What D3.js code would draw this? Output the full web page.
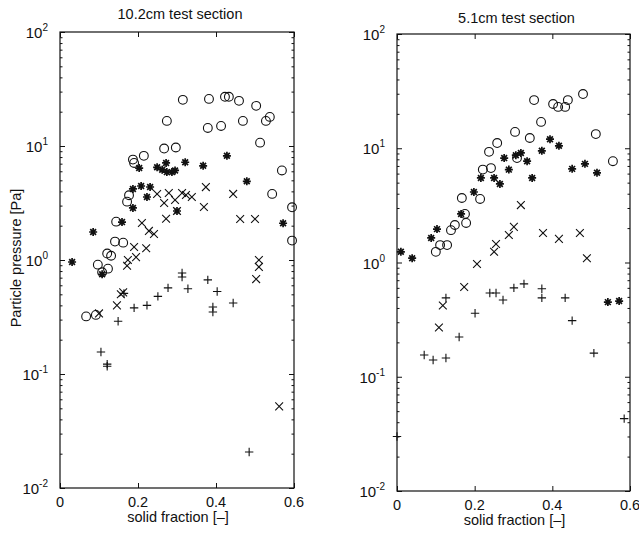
<!DOCTYPE html>
<meta charset="utf-8">
<style>
body { margin: 0; background: #fff; }
svg { display: block; }
text { font-family: "Liberation Sans", Arial, sans-serif; fill: #111; }
.mark { fill: none; stroke: #111; stroke-width: 1.1; }
.star { fill: none; stroke: #111; stroke-width: 1.7; }
</style>
<body>
<svg width="639" height="537"></svg>
<script src="https://cdn.jsdelivr.net/npm/d3@7"></script>
<script>
// ---- data: [solid fraction, particle pressure Pa]
var titles = ["10.2cm test section", "5.1cm test section"];
var xTicks = [0, 0.2, 0.4, 0.6];
var xTickLabels = ["0", "0.2", "0.4", "0.6"];
var yTicks = [0.01, 0.1, 1, 10, 100];
var yTickExp = ["-2", "-1", "0", "1", "2"];

var wideCircles = [[0.315,25.4],[0.382,25.9],[0.423,27],[0.433,27],[0.459,24.9],[0.503,22.5],[0.538,18],
  [0.528,16.6],[0.274,16.6],[0.379,14.4],[0.413,15],[0.469,16.6],[0.513,10.7],[0.267,9.5],[0.297,9.7],
  [0.187,7.6],[0.190,7.1],[0.215,8.2],[0.569,6.1],[0.177,3.7],[0.172,3.25],[0.544,3.8],[0.595,2.9],
  [0.144,2.17],[0.595,1.48],[0.141,1.45],[0.162,1.42],[0.121,1.14],[0.131,1.09],[0.097,0.91],
  [0.123,0.84],[0.108,0.78],[0.067,0.32],[0.092,0.33]];
var wideStars = [[0.031,0.96],[0.085,1.76],[0.159,2.15],[0.187,2.86],[0.187,4.2],[0.208,4.46],[0.231,4.37],
  [0.203,6.4],[0.249,6.5],[0.262,6.2],[0.272,7.1],[0.274,5.9],[0.287,5.9],[0.295,6.1],[0.321,7.2],
  [0.367,6.7],[0.428,8.2],[0.479,4.9],[0.572,2.1],[0.223,3.57],[0.300,2.69],[0.108,0.75]];
var wideCrosses = [[0.249,3.79],[0.267,3.16],[0.279,3.87],[0.295,3.36],[0.313,3.87],[0.323,3.72],[0.338,3.57],
  [0.374,4.36],[0.369,2.92],[0.444,3.8],[0.462,2.29],[0.500,2.29],[0.210,2.11],[0.228,1.8],[0.241,1.69],
  [0.272,2.3],[0.221,1.27],[0.190,1.3],[0.195,1.06],[0.174,1.0],[0.172,0.89],[0.510,1.0],[0.510,0.87],
  [0.503,0.68],[0.162,0.52],[0.156,0.5],[0.146,0.4],[0.100,0.34],[0.562,0.052],[0.300,2.69]];
var widePluses = [[0.313,0.77],[0.313,0.71],[0.277,0.57],[0.328,0.56],[0.379,0.67],[0.403,0.53],[0.444,0.42],
  [0.392,0.387],[0.392,0.35],[0.251,0.48],[0.223,0.4],[0.190,0.38],[0.164,0.51],[0.149,0.29],
  [0.105,0.156],[0.121,0.122],[0.121,0.117],[0.485,0.0207]];

var narrowCircles = [[0.353,26.4],[0.402,24.4],[0.415,23],[0.433,23],[0.440,26.4],[0.479,29.8],[0.371,17],
  [0.304,13.9],[0.342,12.3],[0.258,11.1],[0.237,9.3],[0.512,13.3],[0.556,7.7],[0.309,8.2],[0.221,6.5],
  [0.242,6.7],[0.167,3.67],[0.214,3.6],[0.175,2.66],[0.178,2.22],[0.149,2.13],[0.139,1.92],
  [0.111,1.42],[0.129,1.42],[0.100,1.24]];
var narrowStars = [[0.394,12],[0.417,10.5],[0.373,9.5],[0.335,7.7],[0.276,8.2],[0.306,8.7],[0.319,9.1],
  [0.288,6.5],[0.348,5.5],[0.216,5.5],[0.250,5.5],[0.265,4.87],[0.198,4.14],[0.451,6.6],[0.484,7.3],
  [0.515,6.1],[0.165,2.66],[0.103,1.96],[0.088,1.64],[0.010,1.24],[0.039,1.09],[0.543,0.45],[0.572,0.46]];
var narrowCrosses = [[0.319,3.18],[0.301,2.05],[0.288,1.74],[0.255,1.45],[0.250,1.24],[0.206,0.97],
  [0.376,1.81],[0.417,1.61],[0.471,1.81],[0.489,1.09],[0.173,0.61],[0.118,0.42],[0.108,0.27]];
var narrowPluses = [[0.126,0.49],[0.239,0.54],[0.255,0.54],[0.273,0.47],[0.301,0.6],[0.327,0.65],
  [0.373,0.59],[0.373,0.49],[0.433,0.49],[0.201,0.36],[0.160,0.223],[0.070,0.155],[0.093,0.14],
  [0.126,0.146],[0.451,0.31],[0.507,0.161],[0.585,0.043],[0.0,0.03]];

var svg = d3.select("svg");

// marker paths
function circlePath(r) { return d3.symbol(d3.symbolCircle, Math.PI * r * r)(); }
function plusPath(s) { return "M" + (-s) + ",0H" + s + "M0," + (-s) + "V" + s; }
function crossPath(s) { return "M" + (-s) + "," + (-s) + "L" + s + "," + s + "M" + (-s) + "," + s + "L" + s + "," + (-s); }
function starPath(s) { var d = s * 0.72; return plusPath(s) + crossPath(d); }

function drawPanel(box, title, circles, stars, crosses, pluses) {
  var x = d3.scaleLinear().domain([0, 0.6]).range([box.left, box.right]);
  var y = d3.scaleLog().domain([0.01, 100]).range([box.bottom, box.top]);
  var g = svg.append("g");

  // ticks inside, on all four sides
  var minor = [];
  yTicks.slice(0, -1).forEach(function(t) { for (var k = 2; k < 10; k++) minor.push(t * k); });
  g.append("g").attr("transform", "translate(" + box.left + ",0)")
    .call(d3.axisRight(y).tickValues(yTicks).tickSize(5).tickFormat(""));
  g.append("g").attr("transform", "translate(" + box.right + ",0)")
    .call(d3.axisLeft(y).tickValues(yTicks).tickSize(5).tickFormat(""));
  g.append("g").attr("transform", "translate(" + box.left + ",0)")
    .call(d3.axisRight(y).tickValues(minor).tickSize(2.5).tickFormat(""));
  g.append("g").attr("transform", "translate(" + box.right + ",0)")
    .call(d3.axisLeft(y).tickValues(minor).tickSize(2.5).tickFormat(""));
  g.append("g").attr("transform", "translate(0," + box.bottom + ")")
    .call(d3.axisTop(x).tickValues(xTicks).tickSize(5).tickFormat(""));
  g.append("g").attr("transform", "translate(0," + box.top + ")")
    .call(d3.axisBottom(x).tickValues(xTicks).tickSize(5).tickFormat(""));
  g.selectAll(".domain").remove();
  g.selectAll(".tick line").attr("stroke", "#111");

  g.append("rect")
    .attr("x", box.left).attr("y", box.top)
    .attr("width", box.right - box.left).attr("height", box.bottom - box.top)
    .attr("fill", "none").attr("stroke", "#111").attr("stroke-width", 1.2);

  // tick labels
  var yl = g.selectAll(".ylab").data(yTicks).enter().append("text")
    .attr("x", box.left - 12).attr("y", function(d) { return y(d) + 6; })
    .attr("text-anchor", "end").style("font-size", "15px");
  yl.append("tspan").text("10");
  yl.append("tspan").attr("dy", -7).style("font-size", "10px")
    .text(function(d, i) { return yTickExp[i]; });

  g.selectAll(".xlab").data(xTicks).enter().append("text")
    .attr("x", function(d) { return x(d); }).attr("y", box.bottom + 19)
    .attr("text-anchor", "middle").style("font-size", "14.5px")
    .text(function(d, i) { return xTickLabels[i]; });

  g.append("text").attr("x", (box.left + box.right) / 2 + 1).attr("y", box.bottom + 34)
    .attr("text-anchor", "middle").style("font-size", "14.5px").text("solid fraction [\u2013]");
  g.append("text").attr("x", (box.left + box.right) / 2 + 3).attr("y", box.titleY)
    .attr("text-anchor", "middle").style("font-size", "14.5px").text(title);

  function place(d) { return "translate(" + x(d[0]) + "," + y(d[1]) + ")"; }
  g.selectAll(".c").data(circles).enter().append("path").attr("class", "mark")
    .attr("d", circlePath(4.4)).attr("transform", place);
  g.selectAll(".s").data(stars).enter().append("path").attr("class", "star")
    .attr("d", starPath(4)).attr("transform", place);
  g.selectAll(".x").data(crosses).enter().append("path").attr("class", "mark")
    .attr("d", crossPath(3.9)).attr("transform", place);
  g.selectAll(".p").data(pluses).enter().append("path").attr("class", "mark")
    .attr("d", plusPath(4.2)).attr("transform", place);
}

drawPanel({left: 60, right: 294, top: 32, bottom: 488, titleY: 19}, titles[0],
  wideCircles, wideStars, wideCrosses, widePluses);
drawPanel({left: 397, right: 630, top: 34, bottom: 491, titleY: 23}, titles[1],
  narrowCircles, narrowStars, narrowCrosses, narrowPluses);

svg.append("text")
  .attr("transform", "translate(21,258) rotate(-90)")
  .attr("text-anchor", "middle").style("font-size", "14.5px")
  .text("Particle pressure [Pa]");
</script>
</body>
